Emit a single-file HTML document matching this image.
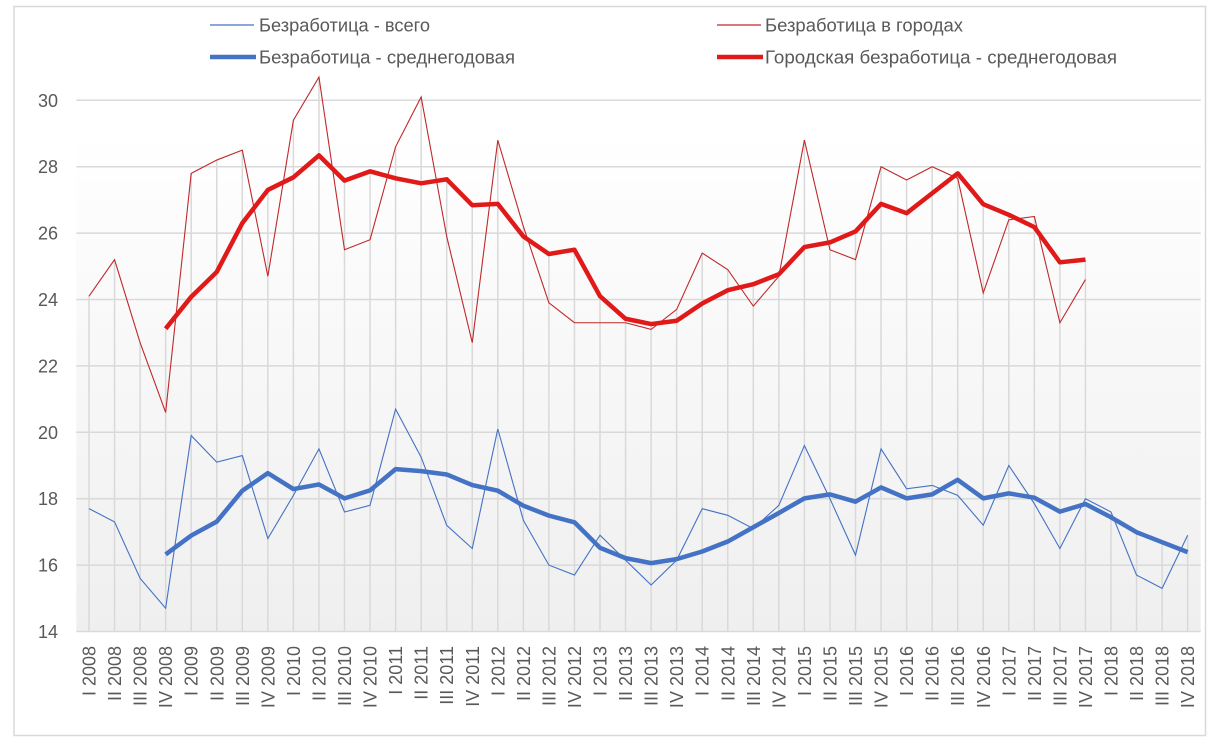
<!DOCTYPE html>
<html><head><meta charset="utf-8"><style>
html,body{margin:0;padding:0;background:#fff;}
svg{display:block;}
text{font-family:"Liberation Sans","DejaVu Sans",sans-serif;fill:#595959;}
</style></head><body>
<svg width="1221" height="747" viewBox="0 0 1221 747" xmlns="http://www.w3.org/2000/svg">
<defs>
<linearGradient id="bg" x1="0" y1="0" x2="0" y2="1">
<stop offset="0" stop-color="#ffffff"/>
<stop offset="1" stop-color="#efefef"/>
</linearGradient>
</defs>
<rect x="0" y="0" width="1221" height="747" fill="#fff"/>
<rect x="14" y="6.5" width="1191.5" height="729" fill="#fff" stroke="#d9d9d9" stroke-width="1.5"/>
<rect x="76.3" y="130" width="1124.4" height="501.5" fill="url(#bg)"/>

<!-- horizontal gridlines -->
<g stroke="#d9d9d9" stroke-width="1.5">
<line x1="76.3" x2="1200.7" y1="100.3" y2="100.3"/>
<line x1="76.3" x2="1200.7" y1="166.7" y2="166.7"/>
<line x1="76.3" x2="1200.7" y1="233.1" y2="233.1"/>
<line x1="76.3" x2="1200.7" y1="299.5" y2="299.5"/>
<line x1="76.3" x2="1200.7" y1="365.9" y2="365.9"/>
<line x1="76.3" x2="1200.7" y1="432.3" y2="432.3"/>
<line x1="76.3" x2="1200.7" y1="498.7" y2="498.7"/>
<line x1="76.3" x2="1200.7" y1="565.1" y2="565.1"/>
<line x1="76.3" x2="1200.7" y1="631.5" y2="631.5"/>
</g>

<!-- y labels -->
<g font-size="18" text-anchor="end">
<text x="58" y="106.8">30</text>
<text x="58" y="173.2">28</text>
<text x="58" y="239.6">26</text>
<text x="58" y="306">24</text>
<text x="58" y="372.4">22</text>
<text x="58" y="438.8">20</text>
<text x="58" y="505.2">18</text>
<text x="58" y="571.6">16</text>
<text x="58" y="638">14</text>
</g>

<!-- data group: x = 89 + 25.55*i ; y = 1096.3 - 33.2*v -->
<g transform="matrix(25.55 0 0 -33.2 89 1096.3)" fill="none">
<path vector-effect="non-scaling-stroke" stroke="#d9d9d9" stroke-width="1.5" d="M0 14V24.1 M1 14V25.2 M2 14V22.7 M3 14V23.12 M4 14V27.8 M5 14V28.2 M6 14V28.5 M7 14V27.3 M8 14V29.4 M9 14V30.7 M10 14V27.58 M11 14V27.86 M12 14V28.6 M13 14V30.1 M14 14V27.62 M15 14V26.84 M16 14V28.8 M17 14V26.2 M18 14V25.37 M19 14V25.5 M20 14V24.1 M21 14V23.42 M22 14V23.26 M23 14V23.7 M24 14V25.4 M25 14V24.9 M26 14V24.46 M27 14V24.76 M28 14V28.8 M29 14V25.72 M30 14V26.05 M31 14V28 M32 14V27.6 M33 14V28 M34 14V27.8 M35 14V26.87 M36 14V26.55 M37 14V26.5 M38 14V25.12 M39 14V25.2 M40 14V17.6 M41 14V16.99 M42 14V16.69 M43 14V16.9"/>

<polyline vector-effect="non-scaling-stroke" stroke="#4472c4" stroke-width="1.1" stroke-linejoin="miter" points="0,17.7 1,17.3 2,15.6 3,14.7 4,19.9 5,19.1 6,19.3 7,16.8 8,18.1 9,19.5 10,17.6 11,17.8 12,20.7 13,19.25 14,17.2 15,16.5 16,20.1 17,17.35 18,16.0 19,15.7 20,16.9 21,16.15 22,15.4 23,16.15 24,17.7 25,17.5 26,17.1 27,17.8 28,19.6 29,18.0 30,16.3 31,19.5 32,18.3 33,18.4 34,18.1 35,17.2 36,19.0 37,17.85 38,16.5 39,18.0 40,17.6 41,15.7 42,15.3 43,16.9"/>

<polyline vector-effect="non-scaling-stroke" stroke="#c0282a" stroke-width="1.1" stroke-linejoin="miter" points="0,24.1 1,25.2 2,22.7 3,20.6 4,27.8 5,28.2 6,28.5 7,24.7 8,29.4 9,30.7 10,25.5 11,25.8 12,28.6 13,30.1 14,25.9 15,22.7 16,28.8 17,26.2 18,23.9 19,23.3 20,23.3 21,23.3 22,23.1 23,23.7 24,25.4 25,24.9 26,23.8 27,24.7 28,28.8 29,25.5 30,25.2 31,28.0 32,27.6 33,28.0 34,27.65 35,24.2 36,26.4 37,26.5 38,23.3 39,24.6"/>

<polyline vector-effect="non-scaling-stroke" stroke="#4472c4" stroke-width="4.5" stroke-linejoin="round" points="3,16.32 4,16.89 5,17.31 6,18.24 7,18.77 8,18.29 9,18.43 10,18.01 11,18.25 12,18.89 13,18.83 14,18.73 15,18.41 16,18.24 17,17.79 18,17.49 19,17.29 20,16.52 21,16.21 22,16.06 23,16.18 24,16.41 25,16.71 26,17.14 27,17.57 28,18.01 29,18.13 30,17.91 31,18.34 32,18.01 33,18.13 34,18.57 35,18.01 36,18.16 37,18.03 38,17.61 39,17.84 40,17.44 41,16.99 42,16.69 43,16.39"/>

<polyline vector-effect="non-scaling-stroke" stroke="#e01919" stroke-width="4.5" stroke-linejoin="round" points="3,23.12 4,24.08 5,24.83 6,26.3 7,27.3 8,27.68 9,28.34 10,27.58 11,27.86 12,27.65 13,27.5 14,27.62 15,26.84 16,26.88 17,25.9 18,25.37 19,25.5 20,24.1 21,23.42 22,23.26 23,23.36 24,23.88 25,24.28 26,24.46 27,24.76 28,25.58 29,25.72 30,26.05 31,26.88 32,26.6 33,27.2 34,27.8 35,26.87 36,26.55 37,26.18 38,25.12 39,25.2"/>
</g>

<!-- x labels -->
<g transform="rotate(-90)" font-size="18" text-anchor="end">
<text x="-646" y="95.5">I 2008</text>
<text x="-646" y="121.05">II 2008</text>
<text x="-646" y="146.6">III 2008</text>
<text x="-646" y="172.15">IV 2008</text>
<text x="-646" y="197.7">I 2009</text>
<text x="-646" y="223.25">II 2009</text>
<text x="-646" y="248.8">III 2009</text>
<text x="-646" y="274.35">IV 2009</text>
<text x="-646" y="299.9">I 2010</text>
<text x="-646" y="325.45">II 2010</text>
<text x="-646" y="351">III 2010</text>
<text x="-646" y="376.55">IV 2010</text>
<text x="-646" y="402.1">I 2011</text>
<text x="-646" y="427.65">II 2011</text>
<text x="-646" y="453.2">III 2011</text>
<text x="-646" y="478.75">IV 2011</text>
<text x="-646" y="504.3">I 2012</text>
<text x="-646" y="529.85">II 2012</text>
<text x="-646" y="555.4">III 2012</text>
<text x="-646" y="580.95">IV 2012</text>
<text x="-646" y="606.5">I 2013</text>
<text x="-646" y="632.05">II 2013</text>
<text x="-646" y="657.6">III 2013</text>
<text x="-646" y="683.15">IV 2013</text>
<text x="-646" y="708.7">I 2014</text>
<text x="-646" y="734.25">II 2014</text>
<text x="-646" y="759.8">III 2014</text>
<text x="-646" y="785.35">IV 2014</text>
<text x="-646" y="810.9">I 2015</text>
<text x="-646" y="836.45">II 2015</text>
<text x="-646" y="862">III 2015</text>
<text x="-646" y="887.55">IV 2015</text>
<text x="-646" y="913.1">I 2016</text>
<text x="-646" y="938.65">II 2016</text>
<text x="-646" y="964.2">III 2016</text>
<text x="-646" y="989.75">IV 2016</text>
<text x="-646" y="1015.3">I 2017</text>
<text x="-646" y="1040.85">II 2017</text>
<text x="-646" y="1066.4">III 2017</text>
<text x="-646" y="1091.95">IV 2017</text>
<text x="-646" y="1117.5">I 2018</text>
<text x="-646" y="1143.05">II 2018</text>
<text x="-646" y="1168.6">III 2018</text>
<text x="-646" y="1194.15">IV 2018</text>
</g>

<!-- legend -->
<line x1="210" y1="25" x2="254" y2="25" stroke="#4472c4" stroke-width="1.2"/>
<line x1="210" y1="57" x2="256" y2="57" stroke="#4472c4" stroke-width="4.5"/>
<line x1="717" y1="25" x2="761" y2="25" stroke="#c0282a" stroke-width="1.2"/>
<line x1="717" y1="57" x2="763" y2="57" stroke="#e01919" stroke-width="4.5"/>
<g font-size="18">
<text x="259" y="31.5" textLength="171" lengthAdjust="spacingAndGlyphs">Безработица - всего</text>
<text x="259" y="63.5" textLength="256" lengthAdjust="spacingAndGlyphs">Безработица - среднегодовая</text>
<text x="765" y="31.5" textLength="198" lengthAdjust="spacingAndGlyphs">Безработица в городах</text>
<text x="765" y="63.5" textLength="352" lengthAdjust="spacingAndGlyphs">Городская безработица - среднегодовая</text>
</g>
</svg>
</body></html>
